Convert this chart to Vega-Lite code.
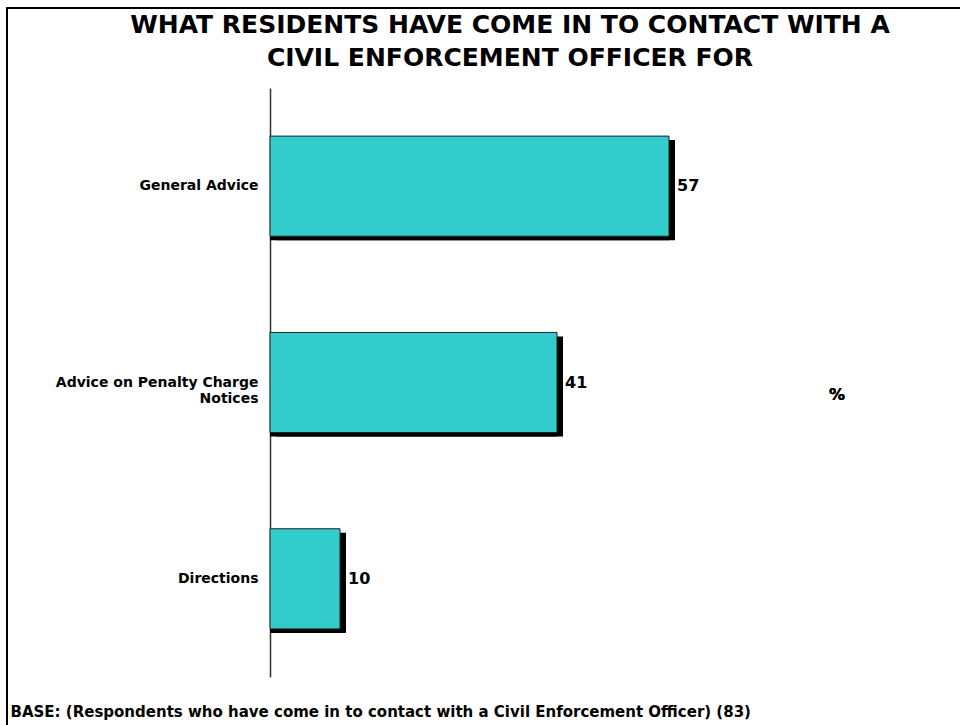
{
  "$schema": "https://vega.github.io/schema/vega-lite/v6.json",
  "autosize": "none",
  "padding": {"left": 7, "top": 8, "right": 0, "bottom": 0},
  "width": 960,
  "height": 730,
  "background": "white",
  "config": {
    "view": {"stroke": "black", "strokeWidth": 2},
    "font": "DejaVu Sans"
  },
  "title": {
    "text": ["WHAT RESIDENTS HAVE COME IN TO CONTACT WITH A", "CIVIL ENFORCEMENT OFFICER FOR"],
    "font": "DejaVu Sans",
    "fontSize": 25,
    "fontWeight": "bold",
    "color": "black",
    "anchor": "start",
    "frame": "group",
    "align": "center",
    "dx": 503,
    "offset": -63,
    "lineHeight": 33
  },
  "data": {
    "values": [
      {"category": "General Advice", "pct": 57},
      {"category": "Advice on Penalty Charge Notices", "pct": 41},
      {"category": "Directions", "pct": 10}
    ]
  },
  "encoding": {
    "y": {
      "field": "category",
      "type": "nominal",
      "sort": null,
      "scale": {"domain": ["General Advice", "Advice on Penalty Charge Notices", "Directions"], "range": [80, 669], "paddingInner": 0.49, "paddingOuter": 0.245},
      "axis": {
        "title": null,
        "orient": "left",
        "offset": -263,
        "ticks": false,
        "domainColor": "#333333",
        "domainWidth": 1.5,
        "labelFont": "DejaVu Sans",
        "labelFontSize": 14,
        "labelFontWeight": "bold",
        "labelColor": "black",
        "labelPadding": 12,
        "labelLimit": 300,
        "labelLineHeight": 16,
        "labelExpr": "datum.label == 'Advice on Penalty Charge Notices' ? ['Advice on Penalty Charge', 'Notices'] : datum.label"
      }
    },
    "x": {
      "field": "pct",
      "type": "quantitative",
      "scale": {"domain": [0, 100], "range": [263, 963], "zero": true, "nice": false},
      "axis": {
        "orient": "bottom",
        "domain": false,
        "ticks": false,
        "labels": false,
        "grid": false,
        "title": "BASE: (Respondents who have come in to contact with a Civil Enforcement Officer) (83)",
        "titleFont": "DejaVu Sans",
        "titleFontSize": 15,
        "titleFontWeight": "bold",
        "titleColor": "black",
        "titleAlign": "left",
        "titleAnchor": "start",
        "titleBaseline": "alphabetic",
        "titleX": 3,
        "titleY": -22
      }
    }
  },
  "layer": [
    {
      "mark": {"type": "bar", "color": "black", "xOffset": 6, "yOffset": 4, "y2Offset": 4}
    },
    {
      "mark": {"type": "bar", "color": "black", "yOffset": 4, "y2Offset": 4}
    },
    {
      "mark": {"type": "bar", "fill": "#33CCCC", "stroke": "#222222", "strokeWidth": 1}
    },
    {
      "mark": {"type": "text", "align": "left", "baseline": "middle", "dx": 8, "fontSize": 16, "fontWeight": "bold", "color": "black"},
      "encoding": {"text": {"field": "pct", "type": "quantitative"}}
    },
    {
      "mark": {"type": "text", "align": "center", "baseline": "middle", "dy": 12, "fontSize": 16, "fontWeight": "bold", "color": "black"},
      "encoding": {
        "x": {"datum": 81},
        "y": {"datum": "Advice on Penalty Charge Notices"},
        "text": {"value": "%"}
      }
    }
  ]
}
